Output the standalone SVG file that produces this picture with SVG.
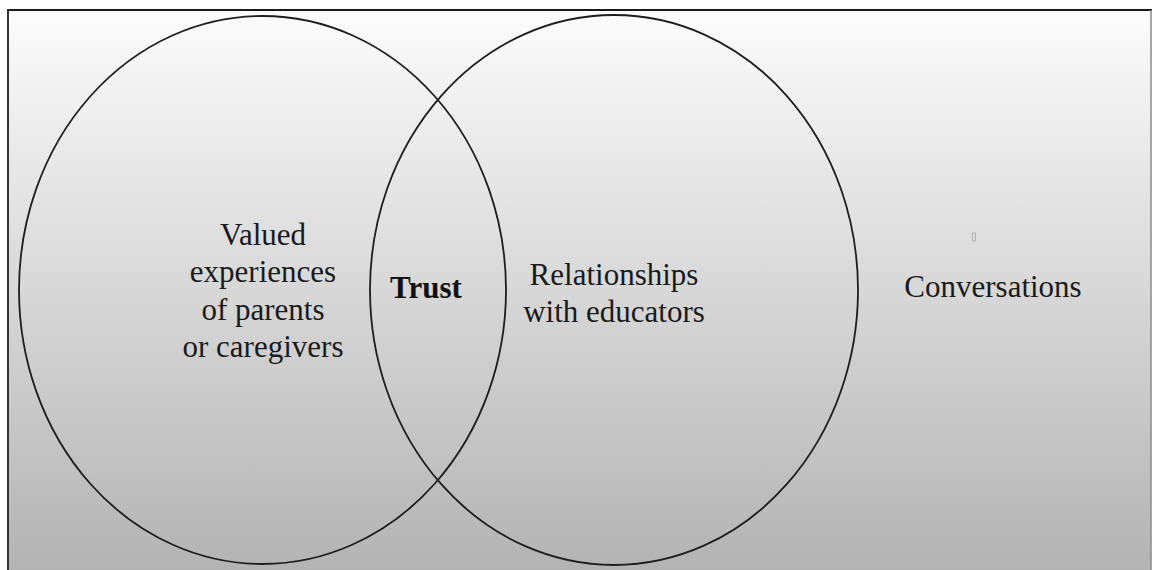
<svg xmlns="http://www.w3.org/2000/svg" width="1152" height="570" viewBox="0 0 1152 570">
  <defs>
    <linearGradient id="bg" x1="0" y1="0" x2="0" y2="1">
      <stop offset="0" stop-color="#fcfcfc"/>
      <stop offset="1" stop-color="#b3b3b3"/>
    </linearGradient>
  </defs>
  <style>
    .ring { fill: none; stroke: #1e1e1e; stroke-width: 1.8; }
    .lbl { font-family: "Liberation Serif", "Times New Roman", serif; font-size: 31px; fill: #1a1a1a; text-anchor: middle; }
    .bold { font-weight: bold; fill: #111; }
  </style>
  <rect x="0" y="0" width="1152" height="570" fill="#ffffff"/>
  <g id="frame">
    <rect x="8" y="10" width="1143" height="562" fill="url(#bg)"/>
    <line x1="7" y1="10" x2="1152" y2="10" stroke="#1a1a1a" stroke-width="2.2"/>
    <line x1="8" y1="9" x2="8" y2="570" stroke="#333" stroke-width="2"/>
    <line x1="1151" y1="10" x2="1151" y2="570" stroke="#8a8a8a" stroke-width="1.5"/>
  </g>
  <g id="connectors"></g>
  <g id="node-parents">
    <ellipse class="ring" cx="262.5" cy="290" rx="243.5" ry="274"/>
    <text class="lbl" x="263" y="245">Valued</text>
    <text class="lbl" x="263" y="282">experiences</text>
    <text class="lbl" x="263" y="320">of parents</text>
    <text class="lbl" x="263" y="357">or caregivers</text>
  </g>
  <g id="node-educators">
    <ellipse class="ring" cx="614" cy="290" rx="244" ry="275"/>
    <text class="lbl" x="614" y="285">Relationships</text>
    <text class="lbl" x="614" y="322">with educators</text>
  </g>
  <g id="node-trust">
    <text class="lbl bold" x="426" y="298">Trust</text>
  </g>
  <g id="node-conversations">
    <rect x="972.5" y="233" width="3" height="8" fill="none" stroke="#aaaaaa" stroke-width="0.8"/>
    <text class="lbl" x="993" y="297">Conversations</text>
  </g>
</svg>
